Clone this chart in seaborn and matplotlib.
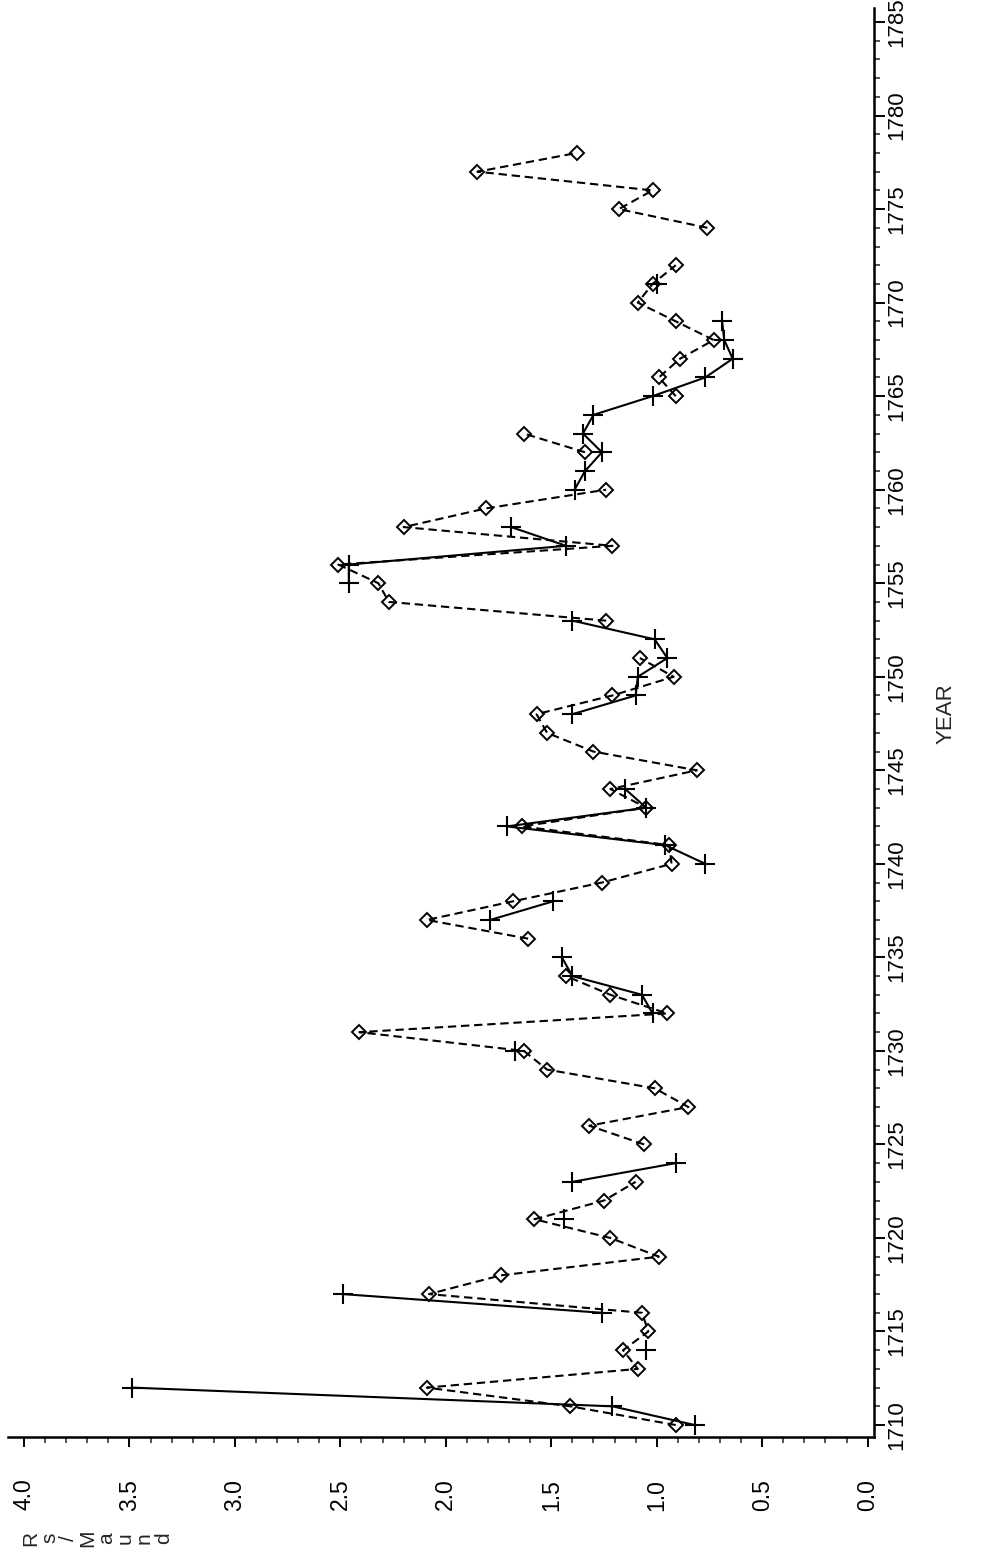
import numpy as np
import pandas as pd
import matplotlib
matplotlib.use("Agg")
import matplotlib.pyplot as plt
import seaborn as sns
from matplotlib.ticker import MultipleLocator, FormatStrFormatter

nan = np.nan

# ------------------------------------------
# data (Rs per maund)
# ------------------------------------------
years = list(range(1710, 1779))

# series drawn with diamonds and a dashed line
price_diamond = [
    0.91, 1.41, 2.09, 1.09, 1.16, 1.04, 1.07, 2.08, 1.74, 0.99,   # 1710-1719
    1.22, 1.58, 1.25, 1.10, nan, 1.06, 1.32, 0.85, 1.01, 1.52,    # 1720-1729
    1.63, 2.41, 0.95, 1.22, 1.43, nan, 1.61, 2.09, 1.68, 1.26,    # 1730-1739
    0.93, 0.94, 1.64, 1.05, 1.22, 0.81, 1.30, 1.52, 1.57, 1.21,   # 1740-1749
    0.92, 1.08, nan, 1.24, 2.27, 2.32, 2.51, 1.21, 2.20, 1.81,    # 1750-1759
    1.24, nan, 1.34, 1.63, nan, 0.91, 0.99, 0.89, 0.73, 0.91,     # 1760-1769
    1.09, 1.02, 0.91, nan, 0.76, 1.18, 1.02, 1.85, 1.38,          # 1770-1778
]

# series drawn with plus signs and a solid line
price_plus = [
    0.82, 1.21, 3.49, nan, 1.05, nan, 1.26, 2.49, nan, nan,       # 1710-1719
    nan, 1.44, nan, 1.40, 0.91, nan, nan, nan, nan, nan,          # 1720-1729
    1.67, nan, 1.02, 1.07, 1.40, 1.45, nan, 1.79, 1.49, nan,      # 1730-1739
    0.77, 0.96, 1.71, 1.05, 1.15, nan, nan, nan, 1.40, 1.10,      # 1740-1749
    1.09, 0.95, 1.01, 1.40, nan, 2.46, 2.46, 1.43, 1.69, nan,     # 1750-1759
    1.39, 1.34, 1.26, 1.35, 1.30, 1.02, 0.77, 0.64, 0.68, 0.69,   # 1760-1769
    nan, 1.00, nan, nan, nan, nan, nan, nan, nan,                 # 1770-1778
]

price_ticks = [0.0, 0.5, 1.0, 1.5, 2.0, 2.5, 3.0, 3.5, 4.0]
year_ticks = list(range(1710, 1786, 5))


def runs(values):
    # split a series into unbroken runs so gaps stay gaps
    df = pd.DataFrame({"year": years, "price": values})
    df["seg"] = df["price"].isna().cumsum()
    return df.dropna()


df_d = runs(price_diamond)
df_p = runs(price_plus)

# ------------------------------------------
# figure (chart is drawn turned on its side)
# ------------------------------------------
sns.set_style("ticks")
plt.rcParams["font.family"] = ["Liberation Sans", "DejaVu Sans"]

W, H = 989, 1555
fig = plt.figure(figsize=(W / 100, H / 100), dpi=100)
ax = fig.add_axes([8 / W, 1 - 1437 / H, (874 - 8) / W, (1437 - 8) / H])

sns.lineplot(data=df_d, x="price", y="year", units="seg", estimator=None,
             sort=False, ax=ax, color="black", linewidth=1.5,
             linestyle=(0, (4.0, 2.3)), marker="D", markersize=7.5,
             markerfacecolor="none", markeredgecolor="black",
             markeredgewidth=1.4)
sns.lineplot(data=df_p, x="price", y="year", units="seg", estimator=None,
             sort=False, ax=ax, color="black", linewidth=1.5,
             marker="+", markersize=15, markeredgecolor="black",
             markeredgewidth=1.5)

ax.set_xlim(4.076, -0.03)
ax.set_ylim(1709.36, 1785.75)

ax.spines["top"].set_visible(False)
ax.spines["left"].set_visible(False)
ax.spines["right"].set_visible(True)
for s in ("bottom", "right"):
    ax.spines[s].set_linewidth(1.8)
    ax.spines[s].set_color("black")

ax.yaxis.tick_right()
ax.set_xticks(price_ticks)
ax.xaxis.set_major_formatter(FormatStrFormatter("%.1f"))
ax.xaxis.set_minor_locator(MultipleLocator(0.1))
ax.set_yticks(year_ticks)
ax.yaxis.set_minor_locator(MultipleLocator(1))

ax.tick_params(axis="x", which="major", length=7, width=1.4, labelsize=16.5,
               pad=23, labelrotation=90, colors="black")
ax.tick_params(axis="x", which="minor", length=4, width=1.1)
ax.tick_params(axis="y", which="major", length=8, width=1.4, labelsize=16,
               pad=1, labelrotation=90, left=False, right=True, colors="black")
ax.tick_params(axis="y", which="minor", length=4.5, width=1.1, left=False,
               right=True)
for lab in ax.get_yticklabels():
    lab.set_rotation_mode("default")
    lab.set_ha("left")
    lab.set_va("center")

ax.set_xlabel("")
ax.set_ylabel("")

fig.text(946 / W, 1 - 714 / H, "YEAR", rotation=90, fontsize=16,
         ha="center", va="center")
fig.text(97 / W, 1 - 1538 / H, "R\ns\n/\nM\na\nu\nn\nd", rotation=90,
         fontsize=15, ha="center", va="center", multialignment="center",
         linespacing=1.0)

fig.savefig("out.png", dpi=100)
